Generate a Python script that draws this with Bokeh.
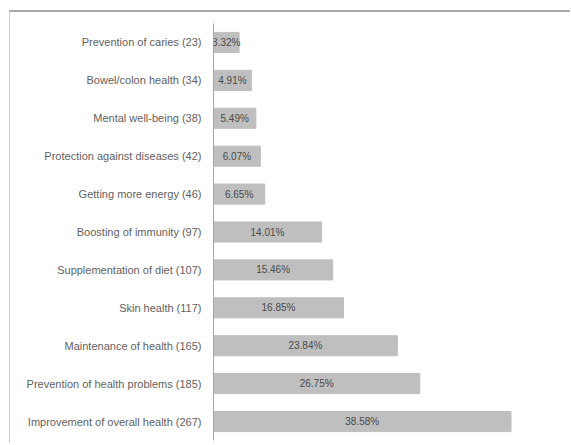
from bokeh.plotting import figure
from bokeh.models import ColumnDataSource, FactorRange, Range1d
from bokeh.core.properties import value
from bokeh.embed import file_html
from bokeh.resources import INLINE

categories = [
    "Prevention of caries (23)",
    "Bowel/colon health (34)",
    "Mental well-being (38)",
    "Protection against diseases (42)",
    "Getting more energy (46)",
    "Boosting of immunity (97)",
    "Supplementation of diet (107)",
    "Skin health (117)",
    "Maintenance of health (165)",
    "Prevention of health problems (185)",
    "Improvement of overall health (267)",
]
percent = [3.32, 4.91, 5.49, 6.07, 6.65, 14.01, 15.46, 16.85, 23.84, 26.75, 38.58]
labels = ["%.2f%%" % v for v in percent]

src = ColumnDataSource(dict(cat=categories, pct=percent, half=[v / 2 for v in percent], lab=labels))

p = figure(
    width=561, height=433,
    y_range=FactorRange(factors=list(reversed(categories))),
    x_range=Range1d(0, 45),
    output_backend="svg", toolbar_location=None,
    min_border_left=203, min_border_right=11, min_border_top=11, min_border_bottom=5,
    styles={"margin-left": "9px", "margin-top": "10px",
            "border-top": "2px solid #a8a8a8", "border-left": "1px solid #cfcfcf"},
)
p.outline_line_color = None
p.xaxis.visible = False
p.xgrid.visible = False
p.ygrid.visible = False

p.hbar(y="cat", right="pct", left=0, height=0.53, source=src,
       fill_color="#bfbfbf", line_color="#bfbfbf")
p.text(x="half", y="cat", text="lab", source=src, text_align="center",
       text_baseline="middle", text_font=value("Liberation Sans"),
       text_font_size="10px", text_color="#4a4a4a")

ax = p.yaxis[0]
ax.axis_line_color = "#a6a6a6"
ax.major_tick_line_color = None
ax.minor_tick_line_color = None
ax.major_label_standoff = 6
ax.major_label_text_font = "Liberation Sans"
ax.major_label_text_font_size = "11px"
ax.major_label_text_color = "#5f5f5f"

open("out.html", "w").write(file_html(p, INLINE))
